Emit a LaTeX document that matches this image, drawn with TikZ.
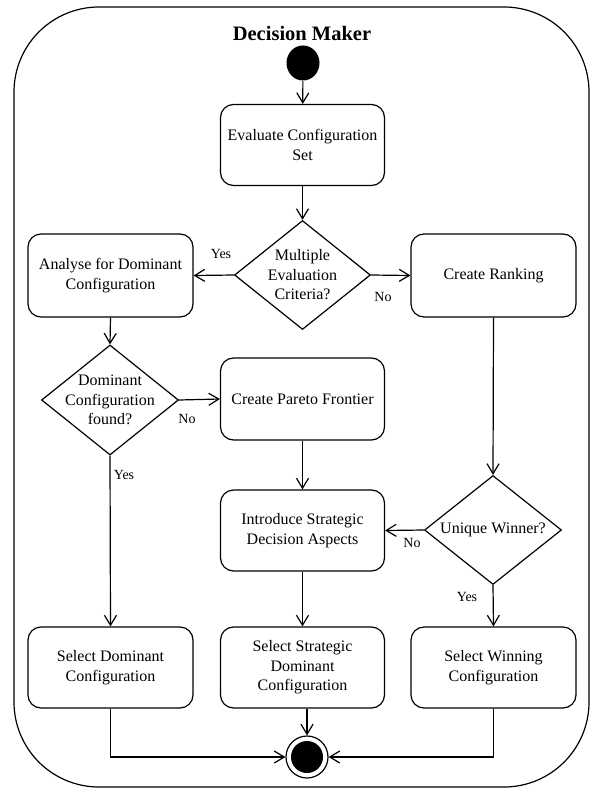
\documentclass[tikz,border=0pt]{standalone}
\usepackage{fontspec}
\setmainfont{Liberation Serif}
\usetikzlibrary{shapes.geometric,arrows.meta}
\begin{document}
\begin{tikzpicture}[x=1pt,y=-1pt,
  every path/.style={line width=1.2pt},
  flow/.style={draw,-{Straight Barb[length=10pt,width=12pt,line width=1.2pt]}},
  action/.style={draw,rectangle,rounded corners=13pt,minimum width=164pt,
    minimum height=81pt,inner sep=0pt,align=center,
    font=\fontsize{16}{19.5}\selectfont},
  decision/.style={draw,diamond,minimum width=136pt,minimum height=109pt,
    inner sep=0pt},
  dtext/.style={align=center,font=\fontsize{16}{19.5}\selectfont},
  guard/.style={font=\fontsize{14}{16}\selectfont,inner sep=0pt},
  startnode/.style={fill,ellipse,minimum width=33pt,minimum height=35pt,inner sep=0pt},
  endnode/.style={draw,circle,minimum size=42pt,inner sep=0pt},
  enddot/.style={fill,circle,minimum size=32pt,inner sep=0pt}]
  \useasboundingbox (0,0) rectangle (592,789);

  % swimlane frame and its title
  \draw[rounded corners=85pt] (14,7) rectangle (589,787);
  \node[font=\fontsize{20.5}{24}\selectfont\bfseries] (title) at (302,33) {Decision Maker};

  % nodes
  \node[startnode] (start) at (303,63) {};
  \node[action] (eval) at (302.5,145) {Evaluate Configuration\\Set};
  \node[decision,label={[dtext]center:Multiple\\Evaluation\\Criteria?}] (multi) at (302.5,275) {};
  \node[action,minimum width=165pt,minimum height=83pt] (analyse) at (110.5,275.5) {Analyse for Dominant\\Configuration};
  \node[action,minimum width=165pt,minimum height=83pt] (ranking) at (493.5,275.5) {Create Ranking};
  \node[decision,minimum width=137pt,minimum height=110pt,label={[dtext]center:Dominant\\Configuration\\found?}] (domfound) at (110,400) {};
  \node[action,minimum height=82pt] (pareto) at (302.5,399) {Create Pareto Frontier};
  \node[action] (strategic) at (302.5,530.5) {Introduce Strategic\\Decision Aspects};
  \node[decision,minimum width=137pt,label={[dtext]center:Unique Winner?}] (unique) at (493,530) {};
  \node[action,minimum width=165pt] (seldom) at (110.5,667.5) {Select Dominant\\Configuration};
  \node[action] (selstrat) at (302.5,667.5) {Select Strategic\\Dominant\\Configuration};
  \node[action,minimum width=165pt] (selwin) at (493.5,667.5) {Select Winning\\Configuration};
  \node[endnode] (final) at (307,757) {};
  \node[enddot] (finaldot) at (final.center) {};

  % connectors
  \draw[flow] (start) -- (eval);
  \draw[flow] (eval) -- (multi);
  \draw[flow] (multi.west) -- (analyse.east);
  \draw[flow] (multi.east) -- (ranking.west);
  \draw[flow] (analyse.south) -- (domfound.north);
  \draw[flow] (domfound.east) -- (pareto.west);
  \draw[flow] (domfound.south) -- (seldom.north);
  \draw[flow] (pareto) -- (strategic);
  \draw[flow] (ranking.south) -- (unique.north);
  \draw[flow] (unique.west) -- (strategic.east);
  \draw[flow] (unique.south) -- (selwin.north);
  \draw[flow] (strategic) -- (selstrat);
  \draw[flow] (selstrat.south -| final) -- (final.north);
  \draw[flow] (seldom.south) |- (final.west);
  \draw[flow] (selwin.south) |- (final.east);

  % guard labels
  \node[guard] (yes1) at (221,254) {Yes};
  \node[guard] (no1) at (383,297) {No};
  \node[guard] (no2) at (187,419) {No};
  \node[guard] (yes2) at (124,475) {Yes};
  \node[guard] (no3) at (412,543) {No};
  \node[guard] (yes3) at (467,597) {Yes};
\end{tikzpicture}
\end{document}
